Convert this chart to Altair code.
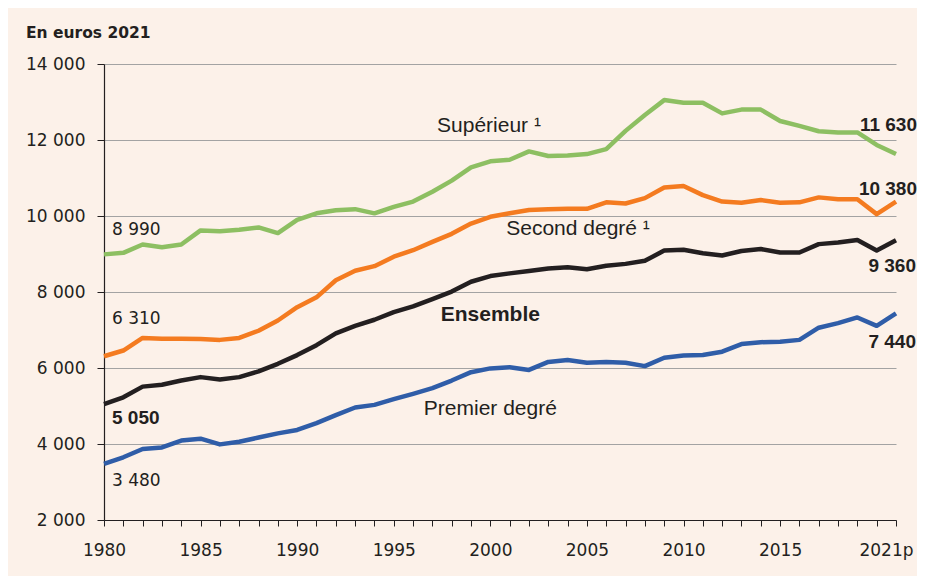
import altair as alt
import pandas as pd

years = list(range(1980, 2022))
superieur = [8990, 9030, 9250, 9180, 9250, 9620, 9600, 9640, 9700, 9550,
             9900, 10070, 10150, 10180, 10070, 10240, 10380, 10640, 10930, 11280,
             11440, 11480, 11700, 11580, 11590, 11630, 11760, 12240, 12660, 13050,
             12980, 12980, 12700, 12800, 12800, 12500, 12370, 12230, 12200, 12200,
             11870, 11630]
second = [6310, 6460, 6790, 6770, 6770, 6760, 6740, 6790, 6980, 7250,
          7600, 7860, 8310, 8560, 8680, 8930, 9100, 9320, 9530, 9800,
          9980, 10070, 10160, 10180, 10190, 10190, 10360, 10330, 10470, 10750,
          10790, 10550, 10380, 10350, 10420, 10350, 10360, 10490, 10440, 10440,
          10050, 10380]
ensemble = [5050, 5230, 5510, 5560, 5670, 5760, 5700, 5760, 5910, 6110,
            6340, 6600, 6910, 7110, 7270, 7470, 7620, 7810, 8010, 8270,
            8420, 8490, 8550, 8620, 8650, 8600, 8690, 8740, 8820, 9090,
            9110, 9020, 8960, 9080, 9130, 9040, 9040, 9260, 9300, 9370,
            9090, 9360]
premier = [3480, 3650, 3870, 3910, 4090, 4140, 3990, 4060, 4170, 4280,
           4370, 4550, 4760, 4960, 5030, 5180, 5320, 5470, 5670, 5890,
           5990, 6020, 5950, 6160, 6210, 6140, 6160, 6140, 6050, 6270,
           6330, 6340, 6430, 6630, 6680, 6690, 6740, 7060, 7180, 7330,
           7110, 7440]

series_names = ["Supérieur", "Second degré", "Ensemble", "Premier degré"]
series_values = [superieur, second, ensemble, premier]
series_colors = ["#8DBF62", "#F47B20", "#231F20", "#2F5DA8"]
series_widths = [4.5, 4.5, 8, 4.5]

name_labels = ["Supérieur ¹", "Second degré ¹", "Ensemble", "Premier degré"]
name_x = [1999.93, 2004.54, 2000.0, 2000.0]
name_y = [12370, 9660, 7400, 4920]
name_bold = [False, False, True, False]

y_ticks = [2000, 4000, 6000, 8000, 10000, 12000, 14000]
x_label_years = [1980, 1985, 1990, 1995, 2000, 2005, 2010, 2015, 2021]
x_label_text = ["1980", "1985", "1990", "1995", "2000", "2005", "2010", "2015", "2021p"]
title_text = "En euros 2021"

BG = "#FCF1E9"
INK = "#231F20"

rows = []
for name, vals in zip(series_names, series_values):
    for yr, v in zip(years, vals):
        rows.append({"annee": yr, "valeur": v, "serie": name})
df = pd.DataFrame(rows)

x_scale = alt.Scale(domain=[1980, 2021], nice=False, zero=False)
y_scale = alt.Scale(domain=[2000, 14000], nice=False, zero=False)

label_map = "{" + ", ".join(f"'{y}': '{t}'" for y, t in zip(x_label_years, x_label_text)) + "}"
x_axis = alt.Axis(
    values=years, title=None, grid=False, domainColor=INK, domainWidth=1.2,
    tickColor=INK, tickSize=6, tickWidth=1,
    labelExpr=f"{label_map}[''+datum.value] || ''",
    labelFont="DejaVu Sans", labelFontSize=17, labelColor=INK,
    labelPadding=16, labelOverlap=False, labelFlush=False, labelBound=False,
    labelOffset={"condition": {"test": "datum.value == 2021", "value": -10}, "value": 0},
)
y_axis = alt.Axis(
    values=y_ticks, title=None, grid=True, gridColor="#A3A3A3", gridWidth=1,
    domainColor=INK, domainWidth=1.2, tickColor=INK, tickSize=7,
    labelExpr="replace(format(datum.value, ','), ',', ' ')",
    labelFont="DejaVu Sans", labelFontSize=17, labelColor=INK, labelPadding=12,
    labelOverlap=False,
)


def X():
    return alt.X("annee:Q", scale=x_scale, axis=x_axis)


def Y():
    return alt.Y("valeur:Q", scale=y_scale, axis=y_axis)


lines = alt.Chart(df).mark_line(strokeJoin="round", strokeCap="butt").encode(
    x=X(), y=Y(),
    color=alt.Color("serie:N", scale=alt.Scale(domain=series_names, range=series_colors), legend=None),
    strokeWidth=alt.StrokeWidth("serie:N", scale=alt.Scale(domain=series_names, range=series_widths), legend=None),
    detail="serie:N",
)

layers = [lines]


def fmt(v):
    return f"{v:,}".replace(",", " ")


def value_label(year, value, bold, align, dx, dy):
    d = pd.DataFrame({"annee": [year], "valeur": [value], "t": [fmt(value)]})
    if bold:
        mk = alt.Chart(d).mark_text(font="Liberation Sans", fontSize=19, fontWeight="bold",
                                    color=INK, align=align, baseline="middle", dx=dx, dy=dy)
    else:
        mk = alt.Chart(d).mark_text(font="DejaVu Sans", fontSize=17, fontWeight="normal",
                                    color=INK, align=align, baseline="middle", dx=dx, dy=dy)
    return mk.encode(x=X(), y=Y(), text="t:N")


# start-of-series labels
layers.append(value_label(years[0], superieur[0], False, "left", 8, -24))
layers.append(value_label(years[0], second[0], False, "left", 8, -37))
layers.append(value_label(years[0], ensemble[0], True, "left", 8, 14))
layers.append(value_label(years[0], premier[0], False, "left", 8, 17))
# end-of-series labels
layers.append(value_label(years[-1], superieur[-1], True, "right", 21, -29))
layers.append(value_label(years[-1], second[-1], True, "right", 21, -13))
layers.append(value_label(years[-1], ensemble[-1], True, "right", 20, 26))
layers.append(value_label(years[-1], premier[-1], True, "right", 20, 29))

names_df = pd.DataFrame({"annee": name_x, "valeur": name_y, "t": name_labels, "b": name_bold})
for bold in (False, True):
    sub = names_df[names_df["b"] == bold]
    layers.append(
        alt.Chart(sub).mark_text(font="Liberation Sans", fontSize=21,
                                 fontWeight="bold" if bold else "normal",
                                 color=INK, align="center", baseline="middle").encode(
            x=X(), y=Y(), text="t:N")
    )

title_df = pd.DataFrame({"t": [title_text]})
layers.append(
    alt.Chart(title_df).mark_text(font="DejaVu Sans", fontSize=15.5, fontWeight="bold",
                                  color=INK, align="left", baseline="middle").encode(
        x=alt.value(-78), y=alt.value(-31), text="t:N")
)

chart = alt.layer(*layers).properties(
    width=792, height=456,
    autosize=alt.AutoSizeParams(type="none"),
    padding={"left": 96, "top": 56, "right": 21, "bottom": 56},
    background=BG,
).configure_view(stroke=None)

chart.save("out.html", embed_options={"renderer": "svg", "actions": False})
